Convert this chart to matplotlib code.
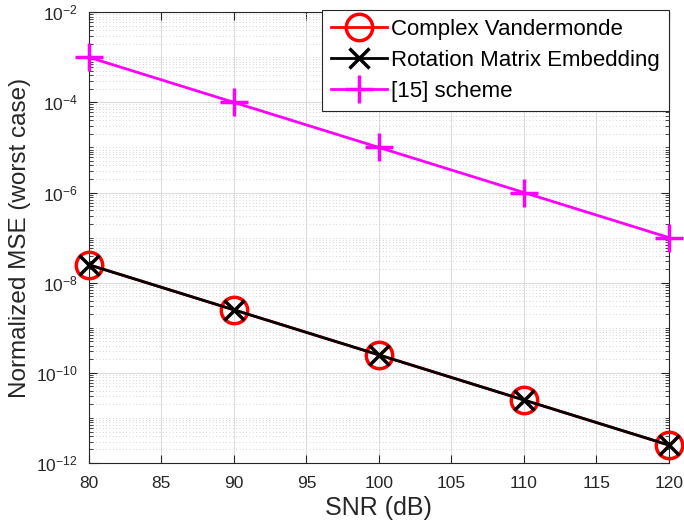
import numpy as np
import matplotlib.pyplot as plt
from matplotlib.ticker import LogLocator, FixedLocator, NullFormatter

plt.rcParams['font.family'] = ['Liberation Sans', 'DejaVu Sans']
plt.rcParams['mathtext.fontset'] = 'custom'
plt.rcParams['mathtext.rm'] = 'Liberation Sans'
plt.rcParams['mathtext.it'] = 'Liberation Sans'

snr = [80, 90, 100, 110, 120]
mse_vandermonde = [2.5e-8, 2.5e-9, 2.5e-10, 2.5e-11, 2.5e-12]
mse_rotation = [2.5e-8, 2.5e-9, 2.5e-10, 2.5e-11, 2.5e-12]
mse_ref15 = [1e-3, 1e-4, 1e-5, 1e-6, 1e-7]

fig = plt.figure(figsize=(6.84, 5.31), dpi=100)
ax = fig.add_axes([0.130, 0.128, 0.848, 0.849])

ax.plot(snr, mse_vandermonde, '-o', color='red', lw=2, ms=19, mfc='none', mew=2.5,
        label='Complex Vandermonde', clip_on=False, zorder=3)
ax.plot(snr, mse_rotation, '-x', color='black', lw=2, ms=15, mew=2.5,
        label='Rotation Matrix Embedding', clip_on=False, zorder=4)
ax.plot(snr, mse_ref15, '-+', color='magenta', lw=2, ms=20, mew=2.5,
        label='[15] scheme', clip_on=False, zorder=3)

ax.set_yscale('log')
ax.set_xlim(80, 120)
ax.set_ylim(1e-12, 1e-2)
ax.set_xticks(np.arange(80, 121, 5))
ax.yaxis.set_major_locator(FixedLocator([1e-12, 1e-10, 1e-8, 1e-6, 1e-4, 1e-2]))
ax.yaxis.set_minor_locator(LogLocator(base=10, subs=np.arange(1, 10), numticks=50))
ax.yaxis.set_minor_formatter(NullFormatter())

ax.grid(True, which='major', color='#dcdcdc', lw=0.8)
ax.grid(True, which='minor', axis='y', color='#c8c8c8', lw=0.6, ls=(0, (1, 3)))
ax.set_axisbelow(True)

ax.tick_params(which='both', direction='in', top=True, right=True, labelsize=12.5,
               colors='#262626')
ax.tick_params(which='major', length=6)
ax.tick_params(which='minor', length=3)
ax.tick_params(axis='x', which='major', pad=9)
ax.tick_params(axis='y', which='major', pad=8)
for s in ax.spines.values():
    s.set_color('#262626')
    s.set_linewidth(0.8)

ax.set_xlabel('SNR (dB)', fontsize=18, color='#262626', labelpad=4)
ax.set_ylabel('Normalized MSE (worst case)', fontsize=17.5, color='#262626', labelpad=4)

leg = ax.legend(loc='upper right', bbox_to_anchor=(1.0, 1.005), borderaxespad=0,
                fontsize=16, fancybox=False, edgecolor='#262626', framealpha=1,
                handlelength=2.5, handletextpad=0.2, borderpad=0.4, labelspacing=0.45)
leg.get_frame().set_linewidth(0.8)

fig.savefig('out.png', dpi=100)
